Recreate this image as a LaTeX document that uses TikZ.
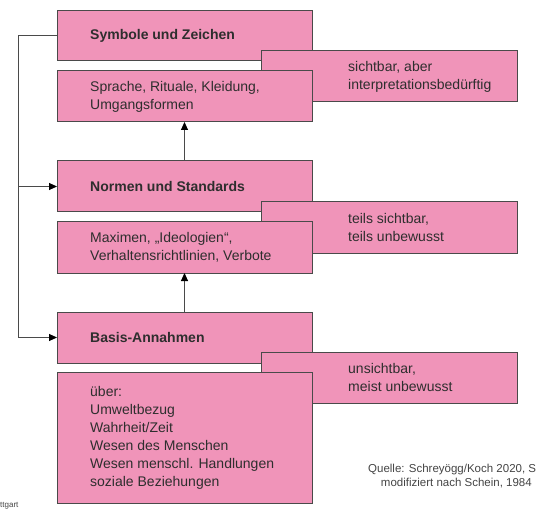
\documentclass[tikz,border=0pt]{standalone}
\usepackage{fontspec}
\setmainfont{Liberation Sans}
\usepackage{tikz}
\usetikzlibrary{arrows.meta,positioning,calc}
\definecolor{kpink}{HTML}{F094B9}
\definecolor{kline}{HTML}{4A4A4A}
\definecolor{ktext}{HTML}{2E2E2E}
\definecolor{kgrey}{HTML}{444444}
\tikzset{
  pbox/.style={draw=kline,fill=kpink,line width=1pt,anchor=north west,inner sep=0pt,outer sep=0pt},
  mbox/.style={pbox,minimum width=255pt},
  sbox/.style={pbox,minimum width=256pt,minimum height=51pt},
  txt/.style={anchor=west,align=left,inner sep=0pt,text=ktext,font=\fontsize{14}{18}\selectfont},
  btxt/.style={txt,font=\fontsize{14}{18}\selectfont\bfseries},
  arr/.style={-{Triangle[length=8pt,width=7pt,color=black]},line width=1pt,draw=kline},
  src/.style={inner sep=0pt,text=kgrey,font=\fontsize{11.5}{14}\selectfont},
}
\begin{document}
\begin{tikzpicture}[x=1pt,y=-1pt]
  \useasboundingbox (0,0) rectangle (537,510);
  % Symbole
  \node[mbox,minimum height=50pt] (sym) at (57,11) {};
  \node[btxt] (symt) at ([xshift=33pt]sym.west) {Symbole und Zeichen};
  \node[sbox] (sicht1) at (261,51) {};
  \node[txt] (sicht1t) at ([xshift=87pt]sicht1.west) {sichtbar, aber\\interpretationsbedürftig};
  \node[mbox,minimum height=51pt] (sprache) at (57,71) {};
  \node[txt] (sprachet) at ([xshift=33pt]sprache.west) {Sprache, Rituale, Kleidung,\\Umgangsformen};
  % Normen
  \node[mbox,minimum height=51pt] (norm) at (57,161) {};
  \node[btxt] (normt) at ([xshift=33pt]norm.west) {Normen und Standards};
  \node[sbox] (sicht2) at (261,202) {};
  \node[txt] (sicht2t) at ([xshift=87pt]sicht2.west) {teils sichtbar,\\teils unbewusst};
  \node[mbox,minimum height=51pt] (maxim) at (57,222) {};
  \node[txt] (maximt) at ([xshift=33pt]maxim.west) {Maximen, „Ideologien“,\\Verhaltensrichtlinien, Verbote};
  % Basis
  \node[mbox,minimum height=51pt] (basis) at (57,312) {};
  \node[btxt] (basist) at ([xshift=33pt]basis.west) {Basis-Annahmen};
  \node[sbox] (sicht3) at (261,352) {};
  \node[txt] (sicht3t) at ([xshift=87pt]sicht3.west) {unsichtbar,\\meist unbewusst};
  \node[mbox,minimum height=131pt] (ueber) at (57,372) {};
  \node[txt] (uebert) at ([xshift=33pt]ueber.west) {über:\\Umweltbezug\\Wahrheit/Zeit\\Wesen des Menschen\\Wesen menschl. Handlungen\\soziale Beziehungen};
  % Pfeile
  \draw[arr] (norm.north) -- (sprache.south);
  \draw[arr] (basis.north) -- (maxim.south);
  \coordinate (bus) at (18,0);
  \draw[arr] (sym.west) -| (bus |- basis.west) -- (basis.west);
  \draw[arr] (bus |- norm.west) -- (norm.west);
  % Quelle
  \node[src,anchor=base west] (q1) at (368,472) {Quelle: Schreyögg/Koch 2020, S};
  \node[src,anchor=base east] (q2) at (532,486) {modifiziert nach Schein, 1984};
  \node[src,anchor=south west,font=\fontsize{8}{9}\selectfont] (ort) at (0,509.5) {ttgart};
\end{tikzpicture}
\end{document}
